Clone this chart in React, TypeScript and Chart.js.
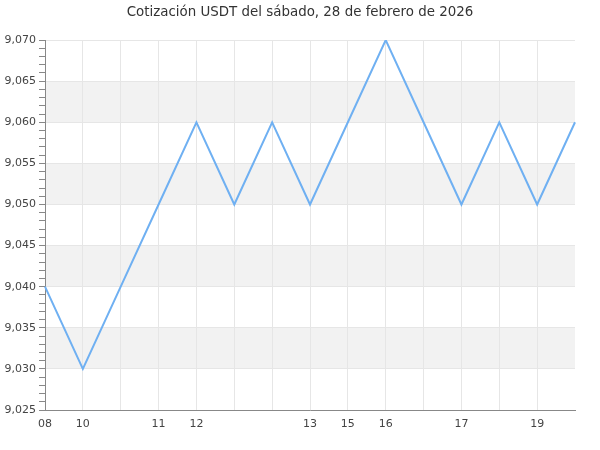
import React, { useEffect, useRef } from "react";
import { Chart, registerables } from "chart.js";

Chart.register(...registerables);

const titleText = "Cotización USDT del sábado, 28 de febrero de 2026";
const categories = ["08", "10", "", "11", "12", "", "", "13", "15", "16", "", "17", "", "19", ""];
const prices = [9.04, 9.03, 9.04, 9.05, 9.06, 9.05, 9.06, 9.05, 9.06, 9.07, 9.06, 9.05, 9.06, 9.05, 9.06];
const yMin = 9.025;
const yMax = 9.07;
const yMajorStep = 0.005;
const yMinorStep = 0.001;

const fmt = (v: number) => v.toFixed(3).replace(".", ",");
const isMajor = (v: number) => Math.round(Math.round(v * 1000) - Math.round(yMin * 1000)) % 5 === 0;

const bandPlugin = {
  id: "bands",
  beforeDraw(chart: any) {
    const { ctx, chartArea, scales } = chart;
    const y = scales.y;
    ctx.save();
    ctx.fillStyle = "#f2f2f2";
    let idx = 0;
    for (let v = yMin; v < yMax - 1e-9; v += yMajorStep) {
      if (idx % 2 === 1) {
        const top = y.getPixelForValue(v + yMajorStep);
        const bot = y.getPixelForValue(v);
        ctx.fillRect(chartArea.left, top, chartArea.right - chartArea.left, bot - top);
      }
      idx++;
    }
    ctx.restore();
  },
};

export default function App() {
  const ref = useRef<HTMLCanvasElement>(null);
  useEffect(() => {
    const chart = new Chart(ref.current!, {
      type: "line",
      data: {
        labels: categories,
        datasets: [
          {
            data: prices,
            borderColor: "#6fb0f2",
            borderWidth: 2,
            pointRadius: 0,
            tension: 0,
            fill: false,
          },
        ],
      },
      options: {
        animation: false,
        responsive: false,
        layout: { padding: 0 },
        plugins: {
          legend: { display: false },
          tooltip: { enabled: false },
          title: {
            display: true,
            text: titleText,
            color: "#333333",
            font: { family: "DejaVu Sans", size: 13.4, weight: "normal" },
            padding: { top: 4, bottom: 20 },
          },
        },
        scales: {
          x: {
            type: "category",
            offset: false,
            grid: {
              drawTicks: false,
              color: (c: any) => (c.index === categories.length - 1 ? "rgba(0,0,0,0)" : "#e6e6e6"),
              lineWidth: 1,
            },
            border: { color: "#888888", width: 1 },
            ticks: {
              autoSkip: false,
              maxRotation: 0,
              padding: 8,
              color: "#444444",
              font: { family: "DejaVu Sans", size: 11 },
            },
            afterFit: (s: any) => {
              s.height = 40;
            },
          },
          y: {
            min: yMin,
            max: yMax,
            grid: {
              drawTicks: true,
              tickLength: 6,
              color: (c: any) => (c.tick && isMajor(c.tick.value) ? "#e6e6e6" : "rgba(0,0,0,0)"),
              tickColor: "#888888",
            },
            border: { color: "#888888", width: 1 },
            ticks: {
              stepSize: yMinorStep,
              maxTicksLimit: 200,
              autoSkip: false,
              padding: 3,
              color: "#444444",
              font: { family: "DejaVu Sans", size: 11 },
              callback: (v: any) => (isMajor(Number(v)) ? fmt(Number(v)) : ""),
            },
            afterFit: (s: any) => {
              s.width = 45;
            },
          },
          yRight: {
            position: "right",
            display: true,
            grid: { display: false, drawTicks: false },
            border: { display: false },
            ticks: { display: false },
            afterFit: (s: any) => {
              s.width = 25;
            },
          },
        },
      },
      plugins: [bandPlugin],
    });
    return () => chart.destroy();
  }, []);
  return (
    <div style={{ position: "fixed", left: 0, top: 0, width: 600, height: 450, background: "#fff" }}>
      <canvas ref={ref} width={600} height={450} />
    </div>
  );
}
